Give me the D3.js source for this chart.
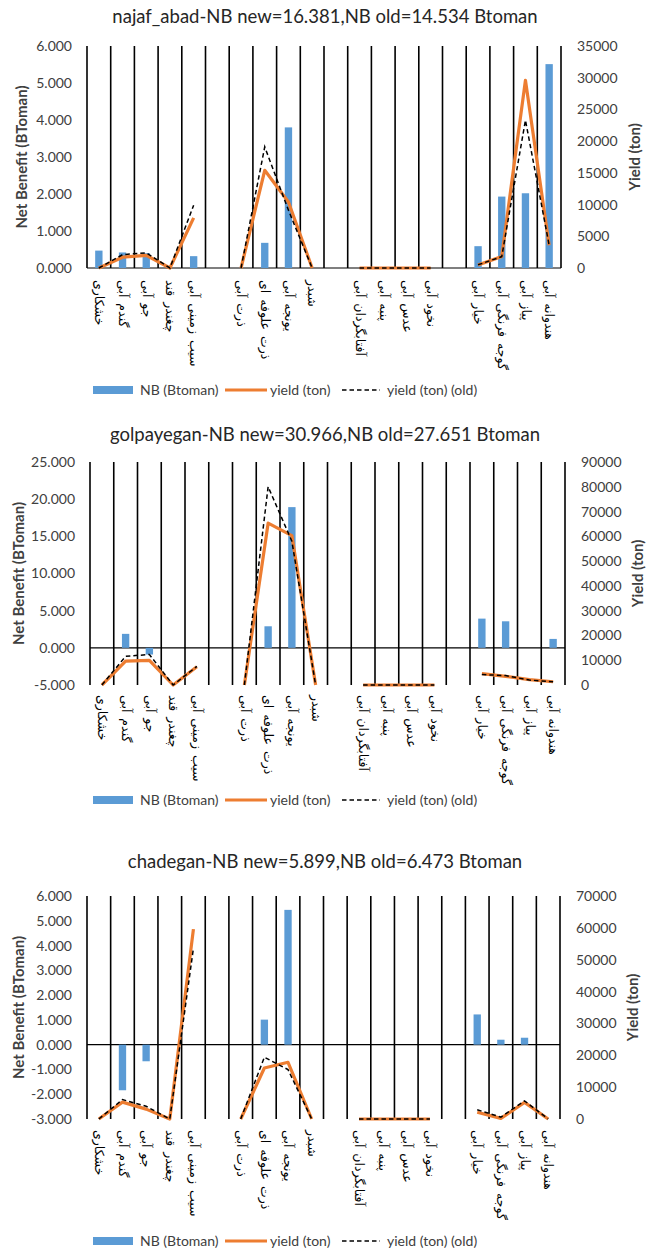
<!DOCTYPE html>
<html>
<head>
<meta charset="utf-8">
<script src="https://cdn.jsdelivr.net/npm/d3@7"></script>
<style>
  body { margin: 0; background: #fff; }
  svg text { font-family: Lato, "Open Sans", sans-serif; }
</style>
</head>
<body>
<svg id="chart" width="649" height="1250"></svg>
<script>
// categories (blank entries are the gaps between crop groups)
const categories = [
  "خشکاری", "گندم آبی", "جو آبی", "چغندر قند", "سیب زمینی آبی", "",
  "ذرت آبی", "ذرت علوفه ای", "یونجه آبی", "شبدر", "",
  "آفتابگردان آبی", "پنبه آبی", "عدس آبی", "نخود آبی", "",
  "خیار آبی", "گوجه فرنگی آبی", "پیاز آبی", "هندوانه آبی"
];

const legendNames = ["NB (Btoman)", "yield (ton)", "yield (ton) (old)"];

// najaf_abad
const najafNB       = [0.47, 0.42, 0.40, 0, 0.32, null, 0, 0.68, 3.80, 0, null, 0, 0, 0, 0, null, 0.59, 1.93, 2.02, 5.51];
const najafYield    = [0, 1700, 2000, 0, 7900, null, 0, 15400, 10400, 0, null, 0, 0, 0, 0, null, 470, 1800, 29600, 3600];
const najafYieldOld = [0, 2100, 2400, 0, 9900, null, 0, 19100, 9100, 0, null, 0, 0, 0, 0, null, 500, 1800, 23300, 3600];
const najafLeftTicks  = [0, 1, 2, 3, 4, 5, 6];
const najafRightTicks = [0, 5000, 10000, 15000, 20000, 25000, 30000, 35000];

// golpayegan
const golNB       = [0, 1.88, -0.9, 0, 0, null, 0, 2.9, 18.93, 0, null, 0, 0, 0, 0, null, 3.93, 3.57, 0, 1.2];
const golYield    = [0, 9600, 9900, 0, 7400, null, 0, 65300, 60300, 0, null, 0, 0, 0, 0, null, 4600, 3500, 2200, 1300];
const golYieldOld = [0, 11600, 12300, 0, 7500, null, 0, 80000, 58000, 0, null, 0, 0, 0, 0, null, 4200, 3800, 2000, 1300];
const golLeftTicks  = [-5, 0, 5, 10, 15, 20, 25];
const golRightTicks = [0, 10000, 20000, 30000, 40000, 50000, 60000, 70000, 80000, 90000];

// chadegan
const chadNB       = [0, -1.84, -0.67, 0, 0, null, 0, 1.01, 5.44, 0, null, 0, 0, 0, 0, null, 1.22, 0.2, 0.28, 0];
const chadYield    = [0, 5300, 3100, 0, 59600, null, 0, 16000, 17800, 0, null, 0, 0, 0, 0, null, 2100, 200, 5200, 0];
const chadYieldOld = [0, 6100, 4000, 0, 53600, null, 0, 19400, 15500, 0, null, 0, 0, 0, 0, null, 2900, 600, 5700, 0];
const chadLeftTicks  = [-3, -2, -1, 0, 1, 2, 3, 4, 5, 6];
const chadRightTicks = [0, 10000, 20000, 30000, 40000, 50000, 60000, 70000];

const BLUE = "#5b9bd5", ORANGE = "#ed7d31", TEXT = "#404040";

const svg = d3.select("#chart");

function drawPanel(p) {
  const g = svg.append("g");

  const idx = d3.range(categories.length);
  const x = d3.scaleBand().domain(idx).range([p.left, p.right]);
  const cx = i => x(i) + x.bandwidth() / 2;
  const yL = d3.scaleLinear().domain(d3.extent(p.leftTicks)).range([p.bottom, p.top]);
  const yR = d3.scaleLinear().domain(d3.extent(p.rightTicks)).range([p.bottom, p.top]);

  // title
  g.append("text")
    .attr("x", 325).attr("y", p.titleY).attr("dy", "0.35em")
    .attr("text-anchor", "middle")
    .attr("font-size", 18.5).attr("fill", "#262626")
    .text(p.title);

  // vertical category gridlines (band edges)
  const edges = idx.map(i => x(i)).concat([p.right]);
  g.append("g").selectAll("line").data(edges).join("line")
    .attr("x1", d => d).attr("x2", d => d)
    .attr("y1", p.top).attr("y2", p.bottom)
    .attr("stroke", "#000").attr("stroke-width", 1.6);

  // category axis at zero
  g.append("line")
    .attr("x1", p.left).attr("x2", p.right)
    .attr("y1", yL(0)).attr("y2", yL(0))
    .attr("stroke", "#000").attr("stroke-width", 1.2);

  // left axis
  const la = g.append("g")
    .attr("transform", `translate(${p.left},0)`)
    .call(d3.axisLeft(yL).tickValues(p.leftTicks).tickSize(0).tickPadding(15)
      .tickFormat(d => d.toFixed(3)));
  la.select(".domain").remove();
  la.attr("font-family", null).attr("font-size", 14);
  la.selectAll("text").attr("fill", TEXT);

  // right axis
  const ra = g.append("g")
    .attr("transform", `translate(${p.right},0)`)
    .call(d3.axisRight(yR).tickValues(p.rightTicks).tickSize(0).tickPadding(16)
      .tickFormat(d => String(d)));
  ra.select(".domain").remove();
  ra.attr("font-family", null).attr("font-size", 14);
  ra.selectAll("text").attr("fill", TEXT);

  // axis titles
  const midY = (p.top + p.bottom) / 2;
  g.append("text")
    .attr("transform", `translate(${p.leftTitleX},${midY}) rotate(-90)`)
    .attr("text-anchor", "middle").attr("dy", "0.35em")
    .attr("font-size", 15).attr("font-weight", "bold").attr("fill", TEXT)
    .text("Net Benefit (BToman)");
  g.append("text")
    .attr("transform", `translate(${p.rightTitleX},${midY}) rotate(-90)`)
    .attr("text-anchor", "middle").attr("dy", "0.35em")
    .attr("font-size", 15).attr("font-weight", "bold").attr("fill", TEXT)
    .text("Yield (ton)");

  // bars
  const bw = x.step() * 0.31;
  const barData = p.nb.map((v, i) => ({ i, v })).filter(d => d.v !== null && d.v !== 0);
  g.append("g").selectAll("rect").data(barData).join("rect")
    .attr("x", d => cx(d.i) - bw / 2)
    .attr("y", d => yL(Math.max(0, d.v)))
    .attr("width", bw)
    .attr("height", d => Math.abs(yL(d.v) - yL(0)))
    .attr("fill", BLUE);

  // yield lines
  const line = d3.line()
    .defined(d => d.v !== null)
    .x(d => cx(d.i))
    .y(d => yR(d.v));

  g.append("path")
    .datum(p.yieldNew.map((v, i) => ({ i, v })))
    .attr("d", line)
    .attr("fill", "none").attr("stroke", ORANGE).attr("stroke-width", 3.2)
    .attr("stroke-linejoin", "round");

  g.append("path")
    .datum(p.yieldOld.map((v, i) => ({ i, v })))
    .attr("d", line)
    .attr("fill", "none").attr("stroke", "#000").attr("stroke-width", 1.5)
    .attr("stroke-dasharray", "4.5,3");

  // category labels (rotated)
  g.append("g").selectAll("text").data(idx).join("text")
    .attr("transform", i => `translate(${cx(i)},${p.labelY}) rotate(90)`)
    .attr("dy", "0.3em")
    .attr("text-anchor", "start")
    .style("font-family", "'DejaVu Sans', sans-serif")
    .style("word-spacing", "2px")
    .attr("font-size", 12.5).attr("fill", "#000")
    .text(i => categories[i]);

  // legend
  const ly = p.legendY;
  const lg = g.append("g").attr("font-size", 14).attr("fill", TEXT);
  lg.append("rect").attr("x", 93).attr("y", ly - 4).attr("width", 40).attr("height", 8).attr("fill", BLUE);
  lg.append("text").attr("x", 140).attr("y", ly).attr("dy", "0.35em").text(legendNames[0]);
  lg.append("line").attr("x1", 225).attr("x2", 267).attr("y1", ly).attr("y2", ly)
    .attr("stroke", ORANGE).attr("stroke-width", 3.2);
  lg.append("text").attr("x", 270).attr("y", ly).attr("dy", "0.35em").text(legendNames[1]);
  lg.append("line").attr("x1", 342).attr("x2", 380).attr("y1", ly).attr("y2", ly)
    .attr("stroke", "#000").attr("stroke-width", 1.5).attr("stroke-dasharray", "4.5,3");
  lg.append("text").attr("x", 387).attr("y", ly).attr("dy", "0.35em").text(legendNames[2]);
}

drawPanel({
  title: "najaf_abad-NB new=16.381,NB old=14.534 Btoman",
  titleY: 17, top: 46, bottom: 268, left: 87, right: 561,
  labelY: 280, legendY: 390, leftTitleX: 22, rightTitleX: 635,
  leftTicks: najafLeftTicks, rightTicks: najafRightTicks,
  nb: najafNB, yieldNew: najafYield, yieldOld: najafYieldOld
});

drawPanel({
  title: "golpayegan-NB new=30.966,NB old=27.651 Btoman",
  titleY: 435, top: 462, bottom: 685, left: 90, right: 565,
  labelY: 695, legendY: 800, leftTitleX: 19, rightTitleX: 638,
  leftTicks: golLeftTicks, rightTicks: golRightTicks,
  nb: golNB, yieldNew: golYield, yieldOld: golYieldOld
});

drawPanel({
  title: "chadegan-NB new=5.899,NB old=6.473 Btoman",
  titleY: 862, top: 896, bottom: 1119, left: 87, right: 560,
  labelY: 1130, legendY: 1241, leftTitleX: 19, rightTitleX: 633,
  leftTicks: chadLeftTicks, rightTicks: chadRightTicks,
  nb: chadNB, yieldNew: chadYield, yieldOld: chadYieldOld
});
</script>
</body>
</html>
